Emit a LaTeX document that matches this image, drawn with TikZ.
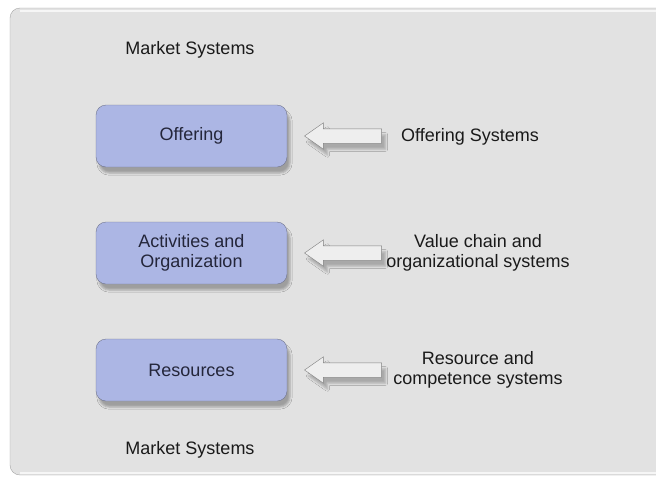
\documentclass[tikz,border=0pt]{standalone}
\usepackage{fontspec}
\setmainfont{Liberation Sans}
\usetikzlibrary{positioning,shapes.arrows,shadows.blur}
\definecolor{panelgray}{RGB}{226,226,226}
\definecolor{panelline}{RGB}{165,165,165}
\definecolor{boxblue}{RGB}{172,182,228}
\definecolor{boxline}{RGB}{112,117,142}
\definecolor{boxtext}{RGB}{36,38,58}
\definecolor{arrowfill}{RGB}{238,238,238}
\definecolor{arrowline}{RGB}{128,128,128}
\definecolor{textdark}{RGB}{26,26,26}
\tikzset{
  layer/.style={draw=boxline,fill=boxblue,rounded corners=10pt,minimum width=191pt,
    minimum height=62pt,align=center,text=boxtext,
    blur shadow={shadow xshift=3pt,shadow yshift=-6pt,shadow opacity=30}},
  feed/.style={single arrow,shape border rotate=180,draw=arrowline,fill=arrowfill,
    minimum height=77pt,inner xsep=0pt,inner ysep=7pt,single arrow head extend=6pt,
    single arrow tip angle=70,
    blur shadow={shadow xshift=4pt,shadow yshift=-6pt,shadow opacity=25}},
  sys/.style={align=center,text=textdark},
}
\begin{document}
\begin{tikzpicture}[x=1pt,y=-1pt,font=\fontsize{18}{20.5}\selectfont]
		\useasboundingbox (0,0) rectangle (656,477);
		\clip (0,0) rectangle (656,477);
		% panel
		\fill[white] (0,0) rectangle (656,477);
		\draw[draw=panelline,fill=panelgray,rounded corners=10pt] (10,8) rectangle (680,475);
		\draw[white,line width=2pt,opacity=.7] (20,10.5)--(680,10.5) (20,472.5)--(680,472.5);
		% layers
		\node[layer] (offering) at (191.5,136) {Offering};
		\node[layer] (activities) at (191.5,253) {Activities and\\Organization};
		\node[layer] (resources) at (191.5,370) {Resources};
		% arrows
		\node[feed,anchor=tip] (offarr) at ([xshift=17pt]offering.east) {};
		\node[feed,anchor=tip] (actarr) at ([xshift=17pt]activities.east) {};
		\node[feed,anchor=tip] (resarr) at ([xshift=17pt]resources.east) {};
		% labels
		\node[sys] (offsys) at (470,137) {Offering Systems};
		\node[sys] (actsys) at (478,253) {Value chain and\\organizational systems};
		\node[sys] (ressys) at (478,370) {Resource and\\competence systems};
		\node[sys] (markettop) at (190,50) {Market Systems};
		\node[sys] (marketbot) at (190,450) {Market Systems};
	\end{tikzpicture}
\end{document}
